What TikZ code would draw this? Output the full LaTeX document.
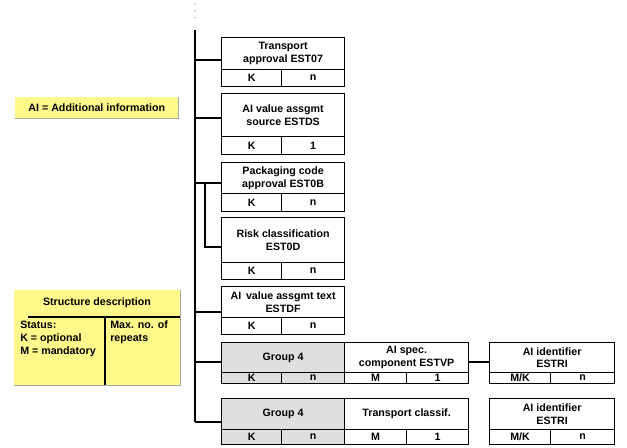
\documentclass[tikz,border=0pt]{standalone}
\usepackage{fontspec}
\setmainfont{Liberation Sans}
\begin{document}
\begin{tikzpicture}[x=0.75pt,y=-0.75pt,
  cell/.style={draw,line width=0.9pt,inner sep=0pt,align=center,font=\fontsize{8}{9.5}\selectfont\bfseries,anchor=north west},
  grey/.style={cell,fill=gray!25},
  yel/.style={fill=yellow!45,draw=none},
  ln/.style={line width=1.4pt}]
\useasboundingbox (0,0) rectangle (627,448);
% cell macro: name, x1,y1,x2,y2, style, text
\newcommand\cl[7]{\node[#6,minimum width=(#4-#2)*0.75pt,minimum height=(#5-#3)*0.75pt] (#1) at (#2,#3) {#7};}
% main line
\foreach \y in {4,11,18} \fill (195,\y) circle (0.5);
\coordinate (top) at (195,30);
\coordinate (bot) at (195,422);
\draw[ln] (top) -- (bot);
% box1
\cl{b1}{221}{37}{344}{69}{cell}{Transport\\approval EST07}
\cl{b1a}{221}{69}{281}{86}{cell}{K}
\cl{b1b}{281}{69}{344}{86}{cell}{n}
% box2
\cl{b2}{221}{93}{344}{136}{cell}{AI value assgmt\\source ESTDS}
\cl{b2a}{221}{136}{281}{154}{cell}{K}
\cl{b2b}{281}{136}{344}{154}{cell}{1}
% box3
\cl{b3}{221}{162}{344}{193}{cell}{Packaging code\\approval EST0B}
\cl{b3a}{221}{193}{281}{211}{cell}{K}
\cl{b3b}{281}{193}{344}{211}{cell}{n}
% box4
\cl{b4}{221}{217}{344}{262}{cell}{Risk classification\\EST0D}
\cl{b4a}{221}{262}{281}{279}{cell}{K}
\cl{b4b}{281}{262}{344}{279}{cell}{n}
% box5
\cl{b5}{221}{286}{344}{317}{cell}{AI\, value assgmt text\\ESTDF}
\cl{b5a}{221}{317}{281}{334}{cell}{K}
\cl{b5b}{281}{317}{344}{334}{cell}{n}
% group row 1
\cl{g1}{221}{342}{344}{372}{grey}{Group 4}
\cl{g1a}{221}{372}{281}{383}{grey}{K}
\cl{g1b}{281}{372}{344}{383}{grey}{n}
\cl{c1}{344}{342}{468}{372}{cell}{AI spec.\\component ESTVP}
\cl{c1a}{344}{372}{406}{383}{cell}{M}
\cl{c1b}{406}{372}{468}{383}{cell}{1}
\cl{r1}{489}{342}{614}{372}{cell}{AI identifier\\ESTRI}
\cl{r1a}{489}{372}{550}{383}{cell}{M/K}
\cl{r1b}{550}{372}{614}{383}{cell}{n}
% group row 2
\cl{g2}{221}{398}{344}{429}{grey}{Group 4}
\cl{g2a}{221}{429}{281}{444}{grey}{K}
\cl{g2b}{281}{429}{344}{444}{grey}{n}
\cl{c2}{344}{398}{468}{429}{cell}{Transport classif.}
\cl{c2a}{344}{429}{406}{444}{cell}{M}
\cl{c2b}{406}{429}{468}{444}{cell}{1}
\cl{r2}{489}{398}{614}{429}{cell}{AI identifier\\ESTRI}
\cl{r2a}{489}{429}{550}{444}{cell}{M/K}
\cl{r2b}{550}{429}{614}{444}{cell}{n}
% connectors
\draw[ln] (195,60) -- (b1.west|-0,60);
\draw[ln] (195,118) -- (b2.west|-0,118);
\draw[ln] (195,183) -- (b3.west|-0,183);
\draw[ln] (205,183) -- (205,247) -- (b4.west|-0,247);
\draw[ln] (195,312) -- (b5.west|-0,312);
\draw[ln] (195,362) -- (g1.west|-0,362);
\draw[ln] (c1.east|-0,362) -- (r1.west|-0,362);
\draw[ln] (bot) -- (g2.west|-0,422);
% legend boxes
\node[yel,minimum width=163*0.75pt,minimum height=21*0.75pt,anchor=north west,inner sep=0pt,font=\fontsize{8}{9.5}\selectfont\bfseries] (ai) at (15,97) {AI = Additional information};
\draw[gray!70,line width=0.8pt] (ai.north east) -- (ai.south east) -- (ai.south west);
\node[yel,minimum width=166*0.75pt,minimum height=95*0.75pt,anchor=north west] (sd) at (14,290) {};
\draw[gray!70,line width=0.8pt] (sd.north east) -- (sd.south east) -- (sd.south west);
\node[font=\fontsize{8}{9.5}\selectfont\bfseries] (sdt) at (97,303) {Structure description};
\draw[line width=1.1pt] (28,317) -- (180,317);
\draw[line width=1.1pt] (105,317) -- (105,385);
\node[anchor=north west,align=left,inner sep=0pt,font=\fontsize{8}{9.5}\selectfont\bfseries] (st) at (20,321) {Status:\\K = optional\\M = mandatory};
\node[anchor=north west,align=left,inner sep=0pt,font=\fontsize{8}{9.5}\selectfont\bfseries] (mx) at (110,321) {Max. no. of\\repeats};
\end{tikzpicture}
\end{document}
